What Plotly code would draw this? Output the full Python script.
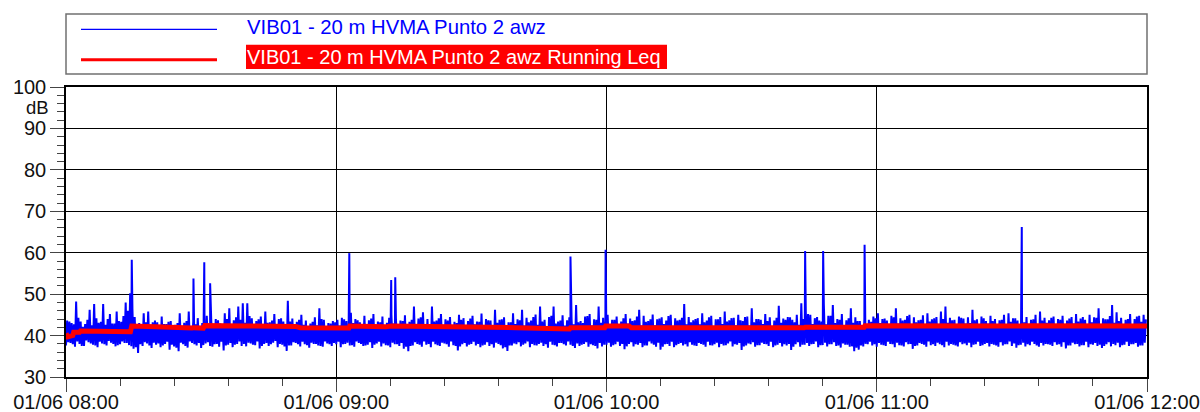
import pandas as pd
import plotly.graph_objects as go

# ---------------- data ----------------
START = "2023-06-01 08:00"
END = "2023-06-01 12:00"

# awz trace, four readings per minute (minutes 0..239):
# band_low at +0 s, band_high at +15 s, band_low2 at +30 s, band_high2 at +45 s
band_low = [
    37.6, 38.2, 37.3, 38.0, 37.5, 38.4, 37.8, 37.2, 38.1, 37.6, 38.3, 37.4, 37.9, 38.2, 37.7, 36.8, 35.8, 37.5, 38.1, 37.0,
    37.8, 37.2, 38.0, 36.6, 37.4, 36.2, 37.9, 37.1, 38.2, 37.6, 37.0, 38.1, 37.5, 37.9, 37.3, 36.4, 37.8, 37.2, 38.0, 37.5,
    37.4, 38.1, 37.7, 36.9, 38.0, 37.5, 38.3, 37.2, 37.8, 36.3, 37.6, 38.2, 37.4, 37.9, 37.1, 38.0, 37.6, 37.3, 38.1, 37.5,
    37.9, 37.2, 38.0, 37.6, 37.3, 38.2, 37.5, 37.8, 37.0, 38.1, 37.4, 37.7, 37.2, 37.9, 37.5, 36.8, 36.2, 37.6, 38.0, 37.3,
    37.8, 37.2, 37.9, 37.5, 38.1, 37.3, 37.7, 36.4, 37.9, 37.4, 38.0, 37.6, 37.2, 37.8, 37.5, 37.1, 38.0, 36.9, 36.3, 37.6,
    37.9, 37.4, 38.1, 37.2, 37.7, 38.0, 37.5, 37.1, 37.8, 37.4, 38.2, 37.6, 37.8, 37.0, 37.5, 38.0, 37.3, 37.7, 36.9, 37.4,
    37.8, 37.3, 37.9, 37.5, 36.7, 38.0, 37.4, 37.8, 37.2, 37.6, 38.1, 37.3, 36.6, 37.9, 37.5, 37.2, 38.0, 37.6, 37.4, 37.8,
    37.5, 38.0, 37.3, 37.7, 37.9, 37.2, 37.6, 38.1, 37.4, 37.8, 36.5, 37.6, 37.9, 37.3, 37.7, 38.0, 37.5, 37.2, 37.8, 37.4,
    37.6, 36.5, 37.9, 37.3, 37.8, 37.5, 38.0, 37.2, 37.7, 37.4, 37.9, 37.5, 37.1, 37.8, 37.3, 36.2, 36.6, 37.4, 37.9, 37.6,
    37.3, 37.8, 37.5, 38.0, 37.2, 37.7, 37.4, 37.9, 36.8, 37.6, 38.0, 37.3, 37.7, 37.5, 37.9, 37.2, 37.6, 37.8, 37.4, 37.9,
    37.7, 37.2, 37.9, 37.5, 38.0, 37.4, 37.8, 37.3, 37.6, 37.9, 37.5, 37.1, 37.8, 37.4, 37.7, 38.0, 37.3, 37.6, 37.9, 37.5,
    37.8, 37.3, 36.9, 37.6, 37.9, 37.4, 37.7, 37.2, 37.8, 37.5, 37.0, 37.9, 37.4, 37.7, 37.2, 37.8, 37.5, 37.9, 37.3, 37.6,
]
band_high = [
    43.6, 43.0, 48.2, 43.4, 42.8, 46.2, 47.6, 43.1, 47.6, 44.0, 42.9, 45.8, 43.3, 48.0, 50.2, 44.5, 43.0, 45.4, 45.8, 43.2,
    43.2, 44.6, 42.8, 43.5, 42.6, 45.4, 43.1, 45.8, 43.4, 44.2, 43.0, 44.8, 43.6, 44.0, 42.9, 45.4, 46.6, 43.7, 47.0, 47.8,
    47.8, 44.2, 43.5, 44.6, 45.8, 43.2, 45.2, 44.0, 43.4, 48.4, 44.1, 43.3, 45.0, 43.6, 42.9, 44.4, 46.6, 43.8, 43.0, 43.5,
    43.8, 44.3, 43.5, 45.5, 44.0, 43.2, 44.8, 43.7, 45.2, 43.4, 44.6, 43.1, 45.0, 44.2, 43.6, 44.9, 43.3, 47.0, 44.1, 45.6,
    44.0, 47.0, 43.6, 45.2, 43.9, 44.5, 43.3, 45.0, 44.2, 43.5, 44.8, 43.4, 45.3, 44.0, 43.6, 46.2, 43.8, 44.4, 43.2, 45.4,
    43.9, 46.2, 44.3, 43.6, 45.1, 47.0, 43.8, 44.5, 47.0, 43.4, 44.9, 43.7, 44.0, 47.4, 43.5, 44.6, 45.2, 43.9, 47.0, 44.3,
    45.0, 43.8, 44.6, 43.4, 45.2, 44.1, 43.7, 46.2, 44.8, 43.5, 45.1, 43.9, 44.4, 43.6, 45.0, 44.2, 43.8, 47.6, 44.5, 43.7,
    44.2, 45.4, 43.6, 44.8, 43.9, 44.5, 45.8, 43.7, 44.3, 45.0, 43.5, 44.6, 46.6, 44.0, 43.8, 45.2, 44.4, 43.6, 47.2, 44.1,
    44.5, 43.8, 45.0, 47.8, 45.6, 45.0, 44.2, 43.6, 47.6, 44.8, 47.4, 44.0, 45.2, 43.7, 46.6, 44.4, 43.5, 44.0, 43.8, 44.6,
    45.4, 44.0, 43.6, 44.8, 46.6, 44.2, 43.8, 45.0, 44.4, 43.7, 44.9, 45.4, 43.9, 44.5, 45.8, 47.0, 44.3, 43.8, 44.6, 44.1,
    44.4, 46.2, 43.9, 44.6, 43.5, 44.8, 44.0, 43.7, 45.0, 45.4, 44.2, 43.6, 43.9, 44.5, 43.8, 45.0, 45.8, 44.3, 43.7, 44.6,
    44.0, 44.8, 43.6, 44.5, 45.2, 44.1, 43.8, 45.0, 44.4, 46.6, 44.2, 43.9, 47.4, 45.6, 44.3, 43.8, 45.2, 44.0, 44.8, 45.0,
]
band_low2 = [
    38.4, 37.9, 38.6, 37.5, 38.8, 38.1, 37.6, 38.5, 37.9, 38.7, 38.0, 37.7, 38.6, 38.2, 37.4, 37.2, 37.9, 38.4, 37.6, 38.3,
    38.1, 37.6, 38.5, 37.8, 37.1, 38.3, 37.5, 38.6, 37.9, 38.2, 37.7, 38.4, 37.3, 38.0, 38.5, 37.6, 38.2, 37.8, 38.6, 38.0,
    38.3, 37.8, 38.6, 37.5, 38.2, 37.9, 38.7, 38.0, 37.4, 37.6, 38.4, 37.9, 38.5, 37.7, 38.3, 38.0, 37.5, 38.6, 37.9, 38.2,
    38.5, 37.9, 38.3, 37.7, 38.6, 38.0, 37.6, 38.4, 37.8, 38.5, 38.1, 37.6, 38.3, 37.9, 38.2, 37.3, 37.5, 38.4, 37.8, 38.6,
    38.0, 38.5, 37.7, 38.3, 37.9, 38.6, 37.5, 37.4, 38.2, 37.8, 38.5, 38.0, 37.6, 38.4, 37.9, 38.3, 37.7, 37.2, 37.6, 38.1,
    38.4, 37.8, 38.6, 38.0, 37.6, 38.3, 37.9, 38.5, 37.7, 38.2, 37.9, 38.6, 37.5, 38.1, 37.8, 38.4, 37.9, 37.5, 38.2, 37.8,
    38.3, 37.7, 38.5, 38.0, 37.4, 38.4, 37.9, 38.2, 37.6, 38.6, 37.8, 38.3, 37.3, 38.0, 38.5, 37.7, 38.2, 37.9, 38.4, 37.6,
    38.2, 37.8, 38.5, 37.6, 38.3, 38.0, 37.7, 38.6, 37.9, 38.2, 37.4, 38.1, 38.4, 37.7, 38.3, 37.9, 38.5, 37.6, 38.2, 37.9,
    38.0, 37.3, 38.4, 37.8, 38.2, 37.9, 38.6, 37.7, 38.3, 37.9, 38.4, 37.6, 38.1, 37.8, 37.4, 37.1, 37.6, 38.0, 38.5, 37.9,
    38.2, 37.7, 38.5, 37.9, 38.3, 37.6, 38.4, 38.0, 37.5, 38.2, 37.8, 38.6, 37.9, 38.3, 37.7, 38.5, 38.0, 37.6, 38.4, 38.1,
    38.3, 37.8, 38.5, 37.7, 38.2, 38.0, 37.6, 38.4, 37.9, 38.6, 38.1, 37.7, 38.3, 37.9, 38.5, 37.6, 38.2, 38.0, 37.8, 38.4,
    37.9, 38.4, 37.6, 38.3, 38.0, 37.7, 38.5, 37.9, 38.2, 37.8, 37.5, 38.4, 38.0, 38.3, 37.7, 38.5, 37.9, 38.2, 37.6, 38.3,
]
band_high2 = [
    43.4, 42.7, 44.3, 42.1, 43.8, 42.5, 44.2, 43.3, 42.6, 45.2, 42.9, 43.5, 44.7, 46.0, 46.4, 42.8, 42.2, 43.2, 42.4, 43.6,
    42.0, 42.8, 43.3, 42.2, 43.0, 41.9, 43.5, 42.3, 42.7, 42.1, 43.2, 42.5, 42.0, 43.7, 42.4, 44.0, 42.6, 44.4, 43.8, 43.1,
    44.7, 42.4, 43.9, 42.3, 43.1, 43.6, 42.1, 44.2, 42.8, 43.4, 42.2, 43.8, 42.6, 42.1, 43.3, 42.5, 44.0, 42.2, 42.9, 43.2,
    42.4, 43.9, 42.2, 43.0, 43.7, 42.3, 42.8, 44.1, 42.1, 43.2, 42.5, 44.3, 42.9, 42.2, 43.5, 42.4, 43.8, 42.7, 44.4, 42.3,
    42.8, 43.4, 44.2, 42.3, 43.6, 42.2, 43.0, 43.8, 42.3, 44.1, 42.7, 43.3, 42.1, 43.7, 42.5, 43.1, 43.9, 42.4, 43.2, 42.8,
    43.7, 42.4, 43.2, 44.5, 42.6, 43.4, 42.3, 44.8, 42.9, 43.6, 42.4, 44.4, 42.7, 43.2, 43.0, 44.7, 42.4, 43.8, 43.1, 43.4,
    42.6, 43.8, 42.3, 44.2, 42.9, 43.5, 44.6, 42.4, 43.3, 43.9, 42.5, 44.1, 42.8, 44.7, 42.3, 43.6, 44.3, 42.7, 43.2, 44.0,
    42.7, 43.2, 44.4, 42.3, 43.9, 42.8, 43.4, 44.2, 42.5, 43.7, 44.5, 42.4, 43.2, 44.0, 42.8, 43.5, 42.3, 44.3, 43.1, 43.8,
    44.4, 43.2, 42.6, 44.0, 45.2, 42.8, 44.5, 43.4, 42.7, 44.8, 43.0, 43.8, 42.4, 44.2, 43.1, 43.5, 42.2, 42.8, 43.3, 44.2,
    43.0, 44.1, 42.5, 44.4, 42.9, 43.6, 44.7, 42.3, 43.2, 43.8, 42.7, 43.4, 44.2, 42.6, 44.0, 43.1, 43.7, 42.4, 44.3, 42.9,
    43.0, 43.7, 42.4, 44.2, 42.9, 43.5, 42.3, 43.8, 42.7, 43.3, 44.2, 42.6, 43.2, 42.8, 43.9, 42.4, 43.6, 43.1, 44.3, 42.7,
    43.8, 42.5, 44.1, 42.9, 43.4, 44.5, 42.7, 43.2, 44.3, 42.8, 43.9, 44.7, 43.1, 43.5, 42.4, 44.0, 42.8, 44.6, 43.3, 43.9,
]

# isolated events (minutes after 08:00, dB)
spike_min = [14.6, 28.3, 30.7, 32.0, 62.9, 72.2, 73.1, 112.0, 119.8, 164.1, 168.1, 177.3, 212.2]
spike_db = [58.3, 53.8, 57.7, 52.6, 59.9, 53.4, 54.1, 59.1, 60.7, 60.4, 60.4, 61.9, 66.2]

# running Leq (minutes after 08:00, dB)
leq_min = [0, 0.4, 0.8, 1.5, 1.7, 3.0, 3.2, 14.3, 14.6, 20, 28.0, 28.3, 30.5, 30.8, 40, 51, 52, 62.8, 63.0,
           71, 72.2, 81, 100, 111.8, 112.0, 119.6, 119.8, 125, 125.5, 163.9, 164.1, 177.2, 177.4, 212.1, 212.3, 240]
leq_db = [40.5, 39.7, 39.8, 40.0, 40.8, 40.8, 41.1, 40.9, 42.3, 42.1, 41.8, 41.9, 41.8, 42.4, 42.3, 42.2, 41.9, 41.8, 42.3,
          42.1, 42.3, 42.2, 41.9, 41.6, 41.9, 41.9, 42.3, 42.3, 41.9, 41.9, 42.0, 42.0, 42.4, 42.3, 42.4, 42.3]

NAME_1 = "VIB01 - 20 m HVMA Punto 2 awz"
NAME_2 = "VIB01 - 20 m HVMA Punto 2 awz Running Leq"

# ---------------- build series ----------------
t0 = pd.Timestamp(START)
pts = []
for i in range(len(band_low)):
    pts.append((i + 0.00, band_low[i]))
    pts.append((i + 0.25, band_high[i]))
    pts.append((i + 0.50, band_low2[i]))
    pts.append((i + 0.75, band_high2[i]))
for m, v in zip(spike_min, spike_db):
    pts.append((m, v))
pts.sort(key=lambda p: p[0])
awz_x = [t0 + pd.Timedelta(minutes=m) for m, _ in pts]
awz_y = [v for _, v in pts]
leq_x = [t0 + pd.Timedelta(minutes=m) for m in leq_min]

fig = go.Figure()
fig.add_trace(go.Scatter(x=awz_x, y=awz_y, mode="lines", name=NAME_1,
                         line=dict(color="#0000FF", width=2.0, simplify=False), showlegend=False))
fig.add_trace(go.Scatter(x=leq_x, y=leq_db, mode="lines", name=NAME_2,
                         line=dict(color="#FF0000", width=5, simplify=False), showlegend=False))

FONT = "Liberation Sans, Arial, sans-serif"
W, H = 1200, 412
ML, MR, MT, MB = 66, 53, 87, 35
PW, PH = W - ML - MR, H - MT - MB


def px(x):
    return (x - ML) / PW


def py(y):
    return (H - MB - y) / PH


fig.update_layout(
    width=W, height=H,
    margin=dict(l=ML, r=MR, t=MT, b=MB, pad=0),
    paper_bgcolor="white", plot_bgcolor="white",
    font=dict(family=FONT, size=20, color="#111111"),
    showlegend=False,
)
fig.update_xaxes(
    type="date", range=[START, END], dtick=3600000, tickformat="%d/%m %H:%M",
    showgrid=True, gridcolor="#000000", gridwidth=1.2,
    showline=True, linecolor="#000000", linewidth=1.5, mirror=True,
    ticks="outside", ticklen=13, tickcolor="#444444", tickwidth=1.2,
    ticklabelstandoff=-7,
    minor=dict(dtick=720000, ticks="outside", ticklen=7, tickcolor="#444444", tickwidth=1.2, showgrid=False),
    tickfont=dict(size=20, family=FONT), automargin=False, zeroline=False,
)
fig.update_yaxes(
    range=[30, 100], dtick=10, tick0=0,
    showgrid=True, gridcolor="#000000", gridwidth=1.2,
    showline=True, linecolor="#000000", linewidth=1.5, mirror=True,
    ticks="outside", ticklen=14, tickcolor="#444444", tickwidth=1.2,
    minor=dict(dtick=2, ticks="outside", ticklen=7, tickcolor="#444444", tickwidth=1.2, showgrid=False),
    tickfont=dict(size=20, family=FONT), automargin=False, zeroline=False,
)

# legend box (custom)
fig.add_shape(type="rect", xref="paper", yref="paper", x0=px(66), x1=px(1147), y0=py(74), y1=py(14),
              line=dict(color="#707070", width=1.5), fillcolor="white", layer="above")
fig.add_shape(type="line", xref="paper", yref="paper", x0=px(81), x1=px(217), y0=py(29.3), y1=py(29.3),
              line=dict(color="#0000FF", width=1.3))
fig.add_shape(type="line", xref="paper", yref="paper", x0=px(81), x1=px(217), y0=py(59.7), y1=py(59.7),
              line=dict(color="#FF0000", width=3))
fig.add_shape(type="rect", xref="paper", yref="paper", x0=px(246), x1=px(667), y0=py(69), y1=py(44.7),
              line=dict(width=0), fillcolor="#FF0000")
fig.add_annotation(xref="paper", yref="paper", x=px(246), y=py(26.5), xanchor="left", yanchor="middle",
                   text=NAME_1, showarrow=False, font=dict(family=FONT, size=20.3, color="#0000FF"), borderpad=0)
fig.add_annotation(xref="paper", yref="paper", x=px(246), y=py(56.5), xanchor="left", yanchor="middle",
                   text=NAME_2, showarrow=False, font=dict(family=FONT, size=20.0, color="#FFFFFF"), borderpad=0)
# unit label
fig.add_annotation(xref="paper", yref="y", x=0, y=95.1, xanchor="right", yanchor="middle", xshift=-16,
                   text="dB", showarrow=False, font=dict(family=FONT, size=18.5, color="#111111"), borderpad=0)

fig.write_html("out.html")
